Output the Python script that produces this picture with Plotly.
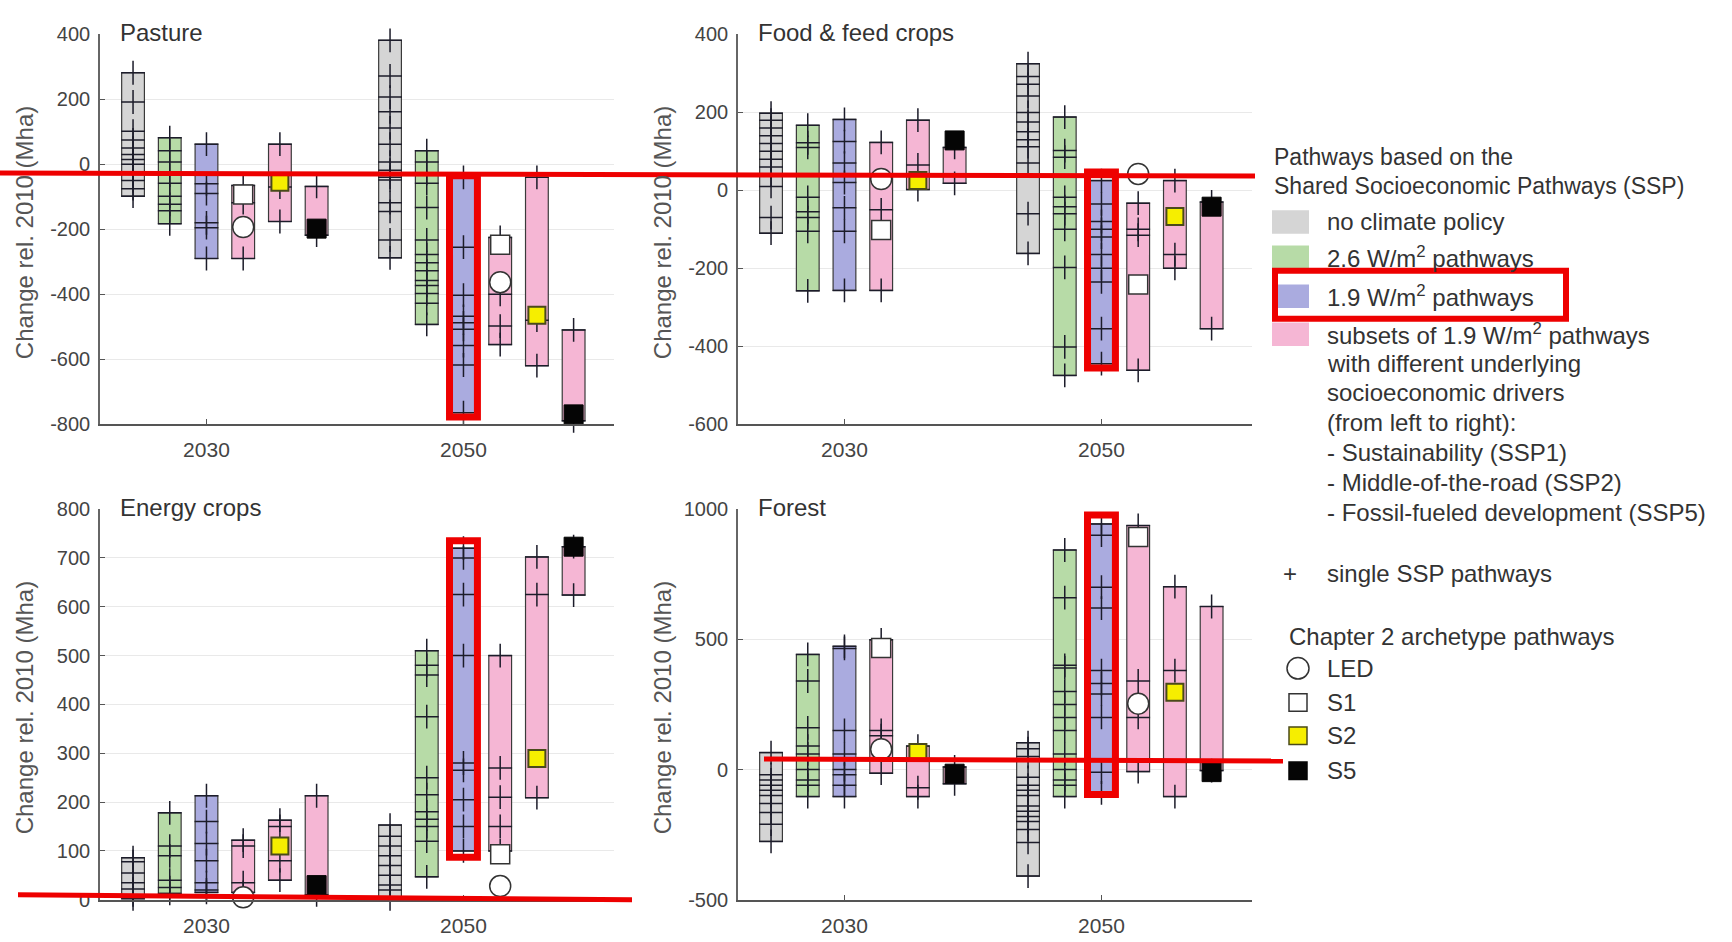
import plotly.graph_objects as go

W, H = 1732, 942
FONT = "Liberation Sans, Arial, sans-serif"

# ---- x layout: two year groups, six boxes each ----
YEAR_LABELS = ["2030", "2050"]
YEAR_POS = [0, 7]
SLOTS = [-2, -1, 0, 1, 2, 3]          # no policy, 2.6, 1.9, SSP1, SSP2, SSP5
BOX_COLORS = ["#d5d5d5", "#b7dba7", "#aaabdf", "#f5b6d4", "#f5b6d4", "#f5b6d4"]

# ---- single SSP pathway values (Mha, change rel. 2010) per box ----
PASTURE_2030 = [
    [282, 192, 102, 75, 50, 30, 15, 0, -30, -50, -75, -98],
    [82, 42, 7, -33, -58, -98, -123, -143, -183],
    [62, -60, -90, -180, -195, -290],
    [-65, -118, -290],
    [62, -70, -176],
    [-68, -218],
]
PASTURE_2050 = [
    [382, 272, 207, 162, 112, 62, 7, -18, -40, -48, -118, -145, -233, -288],
    [42, 7, -28, -58, -133, -233, -278, -303, -328, -358, -373, -398, -428, -493],
    [-40, -255, -403, -468, -488, -508, -558, -618, -765],
    [-225, -400, -498, -555],
    [-40, -480, -620],
    [-510, -790],
]
FOOD_2030 = [
    [198, 180, 160, 140, 120, 100, 80, 60, 40, 10, -70, -110],
    [167, 122, 110, -18, -55, -70, -105, -258],
    [182, 125, 70, 20, -45, -105, -257],
    [123, -50, -257],
    [180, 65, 2],
    [18, 110],
]
FOOD_2050 = [
    [325, 292, 272, 242, 200, 175, 150, 130, 112, 70, -60, -162],
    [188, 102, 85, -18, -42, -60, -100, -198, -402, -475],
    [25, -35, -80, -100, -120, -165, -200, -235, -355, -445],
    [-33, -100, -115, -462],
    [25, -165, -200],
    [-30, -355],
]
ENERGY_2030 = [
    [86, 78, 55, 35, 22, 10, 2],
    [178, 110, 90, 40, 25, 13],
    [213, 160, 115, 80, 35, 20, 15],
    [122, 110, 35, 15],
    [163, 150, 80, 40],
    [213, 10],
]
ENERGY_2050 = [
    [153, 130, 110, 90, 70, 50, 30, 20, 2],
    [510, 480, 460, 375, 250, 215, 180, 165, 150, 120, 47],
    [720, 700, 625, 500, 280, 265, 205, 150, 100],
    [500, 270, 210, 150, 100],
    [702, 625, 209],
    [723, 624],
]
FOREST_2030 = [
    [65, -20, -40, -60, -80, -100, -130, -165, -210, -276],
    [442, 340, 160, 90, 60, 0, -40, -60, -104],
    [473, 465, 150, 60, 0, -20, -60, -104],
    [498, 150, 130, -14],
    [90, -70, -104],
    [10, -55],
]
FOREST_2050 = [
    [103, 80, 50, -30, -60, -80, -100, -140, -160, -180, -200, -230, -280, -409],
    [843, 660, 400, 390, 300, 250, 200, 150, 60, 0, -40, -60, -104],
    [943, 900, 700, 620, 380, 330, 290, 200, -10, -90],
    [937, 340, 200, -8],
    [702, 380, -104],
    [626, -4],
]

# ---- Chapter 2 archetype pathways: LED, S1, S2, S5 ----
PASTURE_ARCH = {"2030": [-193, -93, -55, -198], "2050": [-363, -248, -465, -770]}
FOOD_ARCH = {"2030": [29, -102, 25, 128], "2050": [42, -242, -67, -42]}
ENERGY_ARCH = {"2030": [5, None, 110, 30], "2050": [28, 93, 289, 723]}
FOREST_ARCH = {"2030": [78, 467, 65, -16], "2050": [253, 893, 297, -10]}
ARCH_SLOT = [1, 1, 2, 3]  # LED and S1 on SSP1, S2 on SSP2, S5 on SSP5

PANEL_TITLES = ["Pasture", "Food & feed crops", "Energy crops", "Forest"]
PANEL_DATA = [
    (PASTURE_2030, PASTURE_2050, PASTURE_ARCH),
    (FOOD_2030, FOOD_2050, FOOD_ARCH),
    (ENERGY_2030, ENERGY_2050, ENERGY_ARCH),
    (FOREST_2030, FOREST_2050, FOREST_ARCH),
]
Y_RANGES = [(-800, 400), (-600, 400), (0, 800), (-500, 1000)]
Y_TICKS = [
    list(range(-800, 401, 200)),
    list(range(-600, 401, 200)),
    list(range(0, 801, 100)),
    [-500, 0, 500, 1000],
]
# highlighted 1.9 W/m2 boxes in 2050: y extent of the frame per panel
HIGHLIGHT_Y = [(-778, -35), (-456, 47), (87, 735), (-96, 977)]

# pixel boxes of each panel (left, top, right, bottom)
PANEL_BOX = [(100, 24, 614, 423), (738, 24, 1252, 423),
             (100, 510, 614, 910), (738, 510, 1252, 910)]


def fx(x):
    return x / W


def fy(y):
    return 1 - y / H


fig = go.Figure()
layout = dict(
    width=W, height=H, margin=dict(l=0, r=0, t=0, b=0),
    paper_bgcolor="white", plot_bgcolor="white",
    barmode="overlay", showlegend=False,
    font=dict(family=FONT, color="#333"),
)
shapes = []
annotations = []

ARCH_STYLE = [
    dict(symbol="circle", size=21, color="white", line=dict(color="#333", width=1.5)),
    dict(symbol="square", size=19, color="white", line=dict(color="#333", width=1.5)),
    dict(symbol="square", size=17, color="#f6ee00", line=dict(color="#4a4a1a", width=2)),
    dict(symbol="square", size=19, color="#050505", line=dict(color="#050505", width=1)),
]

for i, (title, (d30, d50, arch)) in enumerate(zip(PANEL_TITLES, PANEL_DATA)):
    n = i + 1
    xa, ya = ("x", "y") if n == 1 else (f"x{n}", f"y{n}")
    l, t, r, b = PANEL_BOX[i]

    # range boxes
    for k in range(6):
        xs, base, span = [], [], []
        for g, data in zip(YEAR_POS, (d30, d50)):
            vals = data[k]
            xs.append(g + SLOTS[k])
            base.append(min(vals))
            span.append(max(vals) - min(vals))
        fig.add_trace(go.Bar(
            x=xs, y=span, base=base, width=0.62, xaxis=xa, yaxis=ya,
            marker=dict(color=BOX_COLORS[k], line=dict(color="#3a3a3a", width=1.2)),
            hoverinfo="skip",
        ))
    # single pathways
    cx, cy = [], []
    for g, data in zip(YEAR_POS, (d30, d50)):
        for k in range(6):
            for v in data[k]:
                cx.append(g + SLOTS[k])
                cy.append(v)
    fig.add_trace(go.Scatter(
        x=cx, y=cy, mode="markers", xaxis=xa, yaxis=ya, cliponaxis=False,
        marker=dict(symbol="cross-thin", size=17, line=dict(color="#1c1c2a", width=1.5)),
        hoverinfo="skip",
    ))
    # archetypes
    for a in range(4):
        ax_, ay_ = [], []
        for g, yr in zip(YEAR_POS, YEAR_LABELS):
            v = arch[yr][a]
            if v is not None:
                ax_.append(g + ARCH_SLOT[a])
                ay_.append(v)
        fig.add_trace(go.Scatter(
            x=ax_, y=ay_, mode="markers", xaxis=xa, yaxis=ya, cliponaxis=False,
            marker=ARCH_STYLE[a], hoverinfo="skip",
        ))

    layout["xaxis" if n == 1 else f"xaxis{n}"] = dict(
        domain=[fx(l), fx(r)], anchor=ya, range=[-2.9, 11.1],
        tickvals=YEAR_POS, ticktext=YEAR_LABELS, ticks="inside", ticklen=5,
        tickcolor="#555", showline=True, linecolor="#555", linewidth=1.6,
        showgrid=False, zeroline=False, fixedrange=True,
        tickfont=dict(size=21, color="#444", family=FONT), ticklabelstandoff=6,
    )
    layout["yaxis" if n == 1 else f"yaxis{n}"] = dict(
        domain=[fy(b), fy(t)], anchor=xa, range=list(Y_RANGES[i]),
        tickvals=Y_TICKS[i], ticktext=[str(v) for v in Y_TICKS[i]],
        ticks="inside", ticklen=5, tickcolor="#555",
        showline=True, linecolor="#666", linewidth=1.6,
        showgrid=True, gridcolor="#e9e9e9", gridwidth=1, zeroline=False,
        tickfont=dict(size=20, color="#444", family=FONT), ticklabelstandoff=4,
    )
    annotations.append(dict(
        text=title, x=fx(l + 18), y=fy(t - 2), xref="paper", yref="paper",
        xanchor="left", yanchor="middle", showarrow=False,
        font=dict(size=24, color="#333", family=FONT),
    ))
    annotations.append(dict(
        text="Change rel. 2010 (Mha)", x=fx(l - 76), y=fy((t + b) / 2 + 4),
        xref="paper", yref="paper", textangle=-90, showarrow=False,
        xanchor="center", yanchor="middle",
        font=dict(size=24, color="#555", family=FONT),
    ))
    # red frame around the 2050 1.9 W/m2 box
    y0, y1 = HIGHLIGHT_Y[i]
    shapes.append(dict(
        type="rect", xref=xa, yref=ya, x0=7 - 0.38, x1=7 + 0.38, y0=y0, y1=y1,
        line=dict(color="#ee0000", width=7), layer="above",
    ))

# red guide lines
for (x0, y0, x1, y1) in [(0, 166, 1255, 169), (18, 905, 632, 910), (764, 766, 1283, 768)]:
    shapes.append(dict(
        type="line", xref="paper", yref="paper",
        x0=fx(x0), y0=fy(y0), x1=fx(x1), y1=fy(y1),
        line=dict(color="#ee0000", width=5), layer="above",
    ))

# ---- legend ----
LEG_X = 1272
LEG_TEXT_X = 1325
LEG_FS = 24


def leg_text(txt, x, y, size=LEG_FS):
    annotations.append(dict(
        text=txt, x=fx(x), y=fy(y), xref="paper", yref="paper",
        xanchor="left", yanchor="middle", showarrow=False,
        font=dict(size=size, color="#333", family=FONT),
    ))


leg_text("Pathways based on the", LEG_X, 150, 23)
leg_text("Shared Socioeconomic Pathways (SSP)", LEG_X, 179, 23)

SWATCH_ROWS = [
    (BOX_COLORS[0], "no climate policy", 216),
    (BOX_COLORS[1], "2.6 W/m<sup>2</sup> pathways", 252),
    (BOX_COLORS[2], "1.9 W/m<sup>2</sup> pathways", 292),
    (BOX_COLORS[3], "subsets of 1.9 W/m<sup>2</sup> pathways", 331),
]
for color, txt, y in SWATCH_ROWS:
    shapes.append(dict(
        type="rect", xref="paper", yref="paper",
        x0=fx(LEG_X), x1=fx(LEG_X + 37), y0=fy(y - 12), y1=fy(y + 12),
        fillcolor=color, line=dict(width=0),
    ))
    leg_text(txt, LEG_TEXT_X, y)

for txt, y in [("with different underlying", 361), ("socioeconomic drivers", 391),
               ("(from left to right):", 421), ("- Sustainability (SSP1)", 452),
               ("- Middle-of-the-road (SSP2)", 483),
               ("- Fossil-fueled development (SSP5)", 513)]:
    leg_text(txt, LEG_TEXT_X, y)

annotations.append(dict(
    text="+", x=fx(1290), y=fy(576), xref="paper", yref="paper",
    xanchor="center", yanchor="middle", showarrow=False,
    font=dict(size=24, color="#333", family=FONT),
))
leg_text("single SSP pathways", LEG_TEXT_X, 576)
leg_text("Chapter 2 archetype pathways", 1287, 640)

# archetype symbols in the legend
shapes.append(dict(type="circle", xref="paper", yref="paper",
                   x0=fx(1287), x1=fx(1309), y0=fy(662), y1=fy(684),
                   fillcolor="white", line=dict(color="#333", width=1.5)))
for fill, edge, y in [("white", "#333", 708), ("#f6ee00", "#4a4a1a", 742), ("#050505", "#050505", 778)]:
    shapes.append(dict(type="rect", xref="paper", yref="paper",
                       x0=fx(1289), x1=fx(1307), y0=fy(y - 9), y1=fy(y + 9),
                       fillcolor=fill, line=dict(color=edge, width=1.5)))
for txt, y in [("LED", 673), ("S1", 708), ("S2", 742), ("S5", 778)]:
    leg_text(txt, LEG_TEXT_X, y)

# red frame around the 1.9 W/m2 legend entry
shapes.append(dict(type="rect", xref="paper", yref="paper",
                   x0=fx(1275), x1=fx(1566), y0=fy(315), y1=fy(266),
                   line=dict(color="#ee0000", width=6), layer="above"))

layout["shapes"] = shapes
layout["annotations"] = annotations
fig.update_layout(**layout)
fig.write_html("out.html")
